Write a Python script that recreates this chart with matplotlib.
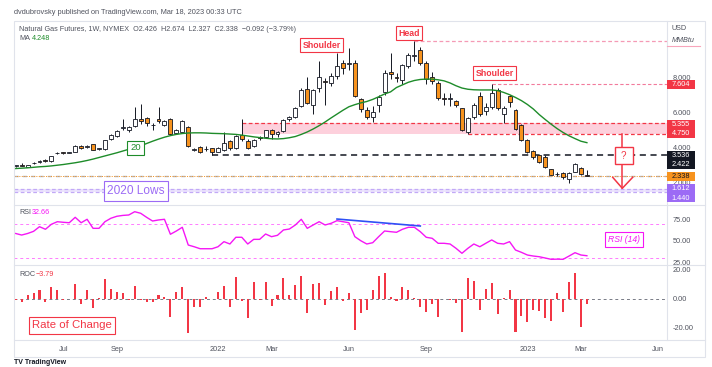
import numpy as np
import pandas as pd
import matplotlib
matplotlib.use("Agg")
import matplotlib.pyplot as plt
import matplotlib.dates as mdates
from matplotlib.patches import Rectangle
from matplotlib.ticker import FormatStrFormatter

plt.rcParams['font.family'] = ['Liberation Sans', 'DejaVu Sans']

# weekly NG futures, May 2021 - Mar 2023
weeks = pd.date_range('2021-05-10', periods=97, freq='7D')
opens = [2.92, 2.99, 2.88, 3.08, 3.12, 3.27, 3.20, 3.65, 3.68, 3.66,
         3.74, 4.04, 4.02, 4.15, 3.89, 3.86, 4.44, 4.65, 5.08, 5.00,
         5.18, 5.62, 5.64, 5.25, 5.58, 5.27, 5.60, 4.80, 4.88, 5.16,
         3.85, 4.02, 3.86, 3.92, 3.74, 3.85, 4.34, 3.93, 4.69, 4.34,
         4.06, 4.58, 4.55, 5.00, 4.75, 4.91, 5.58, 5.70, 6.35, 7.30,
         6.40, 7.35, 7.78, 7.64, 8.06, 8.82, 8.72, 8.82, 6.72, 6.11,
         5.72, 6.40, 7.16, 8.30, 8.00, 7.85, 8.63, 9.18, 9.54, 8.80,
         8.02, 7.67, 6.82, 6.75, 6.63, 6.21, 4.87, 5.70, 6.91, 6.07,
         6.30, 7.26, 5.90, 6.91, 6.11, 5.26, 4.40, 3.79, 3.54, 3.45,
         2.73, 2.47, 2.53, 2.20, 2.60, 2.82, 2.426]
highs = [2.98, 3.06, 2.99, 3.14, 3.25, 3.30, 3.51, 3.72, 3.72, 3.72,
         4.10, 4.12, 4.14, 4.20, 3.96, 4.42, 4.72, 4.97, 5.62, 5.20,
         6.30, 6.45, 5.70, 5.35, 6.27, 5.55, 5.65, 5.05, 5.52, 5.20,
         3.95, 4.05, 4.05, 3.95, 4.00, 4.87, 4.40, 4.70, 5.58, 4.45,
         4.45, 4.62, 5.00, 5.05, 4.92, 5.60, 5.78, 6.30, 7.35, 7.98,
         7.30, 8.93, 7.95, 8.25, 9.35, 8.95, 9.66, 9.00, 6.78, 6.30,
         6.34, 6.95, 8.40, 9.40, 8.25, 8.75, 9.40, 10.03, 9.70, 8.90,
         8.30, 7.75, 7.10, 7.10, 6.70, 6.25, 5.70, 6.50, 7.16, 6.50,
         7.604, 7.35, 6.35, 7.00, 6.20, 5.30, 4.45, 3.85, 3.60, 3.55,
         2.75, 2.58, 2.60, 2.60, 3.08, 2.85, 2.674]
lows = [2.87, 2.91, 2.85, 3.05, 3.10, 3.16, 3.17, 3.58, 3.62, 3.63,
        3.72, 3.90, 3.96, 3.82, 3.85, 3.83, 4.40, 4.60, 4.95, 4.88,
        5.12, 5.30, 5.18, 4.98, 5.40, 5.20, 4.70, 4.72, 4.85, 4.02,
        3.80, 3.64, 3.78, 3.536, 3.70, 3.80, 3.85, 3.90, 4.35, 3.90,
        4.00, 4.42, 4.50, 4.45, 4.60, 4.88, 5.50, 5.65, 6.30, 6.45,
        5.87, 7.15, 6.40, 7.50, 7.90, 8.20, 8.40, 6.85, 6.00, 5.60,
        5.45, 6.00, 7.00, 7.90, 7.73, 7.60, 8.50, 8.90, 8.70, 7.60,
        7.60, 6.70, 6.40, 6.35, 6.30, 4.90, 4.75, 5.60, 5.80, 5.85,
        6.20, 6.10, 5.39, 6.30, 4.95, 4.35, 3.65, 3.30, 3.10, 2.80,
        2.38, 2.35, 2.20, 1.967, 2.55, 2.38, 2.327]
closes = [2.94, 2.94, 2.96, 3.10, 3.22, 3.20, 3.49, 3.67, 3.66, 3.67,
          4.06, 3.97, 4.08, 3.85, 3.92, 4.40, 4.69, 4.91, 5.15, 5.13,
          5.60, 5.50, 5.36, 5.27, 5.50, 5.49, 4.75, 5.00, 5.48, 4.07,
          3.88, 3.69, 3.88, 3.70, 3.97, 4.25, 3.97, 4.63, 4.48, 3.96,
          4.40, 4.50, 4.97, 4.73, 4.86, 5.54, 5.72, 6.21, 7.26, 6.50,
          7.26, 7.98, 7.70, 8.06, 8.63, 8.50, 8.80, 6.91, 6.15, 5.72,
          6.02, 6.87, 8.21, 8.17, 7.97, 8.69, 9.26, 9.25, 8.78, 7.90,
          7.75, 6.80, 6.76, 6.80, 6.42, 4.95, 5.64, 6.40, 5.90, 6.27,
          7.07, 6.21, 6.21, 6.55, 5.01, 4.40, 3.70, 3.41, 3.16, 2.84,
          2.42, 2.44, 2.28, 2.53, 3.01, 2.43, 2.338]
ma20 = [2.77, 2.79, 2.81, 2.84, 2.87, 2.89, 2.92, 2.96, 3.00, 3.05,
        3.10, 3.16, 3.23, 3.31, 3.40, 3.49, 3.58, 3.67, 3.77, 3.87,
        3.97, 4.07, 4.20, 4.33, 4.45, 4.56, 4.65, 4.72, 4.77, 4.80,
        4.81, 4.81, 4.80, 4.78, 4.77, 4.76, 4.74, 4.72, 4.68, 4.63,
        4.58, 4.54, 4.50, 4.47, 4.46, 4.48, 4.53, 4.60, 4.72, 4.86,
        5.03, 5.22, 5.43, 5.66, 5.88, 6.10, 6.30, 6.42, 6.52, 6.60,
        6.72, 6.87, 7.03, 7.15, 7.40, 7.55, 7.70, 7.80, 7.86, 7.88,
        7.88, 7.84, 7.78, 7.66, 7.50, 7.37, 7.30, 7.27, 7.26, 7.26,
        7.26, 7.22, 7.12, 6.99, 6.83, 6.65, 6.43, 6.17, 5.85, 5.57,
        5.30, 5.05, 4.83, 4.64, 4.48, 4.33, 4.248]
rsi14 = [58.5, 56.7, 58.5, 61.0, 66.4, 63.4, 69.2, 72.2, 71.5, 71.0,
         77.3, 71.0, 75.0, 64.5, 64.5, 72.2, 76.2, 78.5, 79.5, 80.0,
         83.8, 82.0, 77.3, 73.0, 74.2, 75.0, 57.6, 61.4, 65.7, 45.1,
         43.1, 40.8, 40.8, 40.8, 43.1, 49.0, 46.3, 54.1, 54.1, 46.3,
         51.7, 51.7, 57.9, 54.8, 56.4, 62.6, 63.7, 68.4, 75.0, 64.5,
         68.4, 72.2, 68.4, 70.3, 73.4, 72.2, 71.0, 54.8, 50.1, 46.3,
         47.8, 54.8, 61.4, 60.6, 59.9, 63.4, 65.7, 65.7, 60.6, 54.1,
         52.9, 47.1, 47.1, 46.3, 41.3, 35.5, 41.3, 46.3, 43.1, 47.1,
         51.0, 47.1, 46.3, 49.0, 39.3, 36.6, 33.5, 32.3, 31.5, 30.0,
         28.5, 28.7, 28.5, 32.3, 36.2, 33.5, 32.66]
roc = [-1.0, -1.8, 2.8, 3.9, 6.2, -2.3, 8.5, 6.2, -0.9, 0.3,
       10.3, -3.4, 6.2, -6.4, 0.5, 13.8, 6.7, 5.1, 3.9, -1.0,
       9.0, -1.0, -2.0, -2.3, 2.8, 1.6, -12.6, 5.1, 8.1, -23.7,
       -5.3, -5.8, 1.4, 0.3, 4.8, 9.0, -5.8, 15.4, -1.5, -13.3,
       12.0, -0.5, 12.0, -5.0, 2.8, 14.2, 2.8, 9.4, 15.9, -9.9,
       10.3, 11.0, -4.0, 5.5, 8.1, -1.6, 3.9, -21.4, -9.9, -7.6,
       6.2, 15.9, 18.2, 1.0, -1.5, 8.1, 6.2, 0.8, -5.3, -8.7,
       -3.4, -12.2, 0.3, -0.7, -3.0, -22.5, 14.2, 12.4, -7.6, 6.7,
       10.8, -10.6, 0.5, 6.0, -22.5, -12.0, -16.0, -7.6, -8.5, -13.0,
       -15.0, 4.0, -9.0, 12.0, 18.0, -19.3, -3.79]

# drawn levels: (value, first week index)
head_high = (10.03, 67)
right_shoulder = (7.604, 80)
zone_top, zone_bottom = 5.355, 4.750
zone_start, zone_bottom_start = 38, 76
support = (3.536, 33)
last_close = 2.338
lows_2020 = (1.440, 1.612)
rsi_trend = ([54, 68], [75.3, 67.2])

month_ticks = ['2021-07-05', '2021-09-06', '2022-01-03', '2022-03-07', '2022-06-06',
               '2022-09-05', '2023-01-02', '2023-03-06', '2023-06-05']
month_labels = ['Jul', 'Sep', '2022', 'Mar', 'Jun', 'Sep', '2023', 'Mar', 'Jun']

W, H = 712, 367
RED = '#f23645'
ORANGE = '#f7931e'
PURPLE = '#9c6bf5'
GREEN = '#1e8c2a'
MAGENTA = '#f516f5'
TXT = '#50535e'
GRID = '#e0e3eb'


def px_axes(fig, x0, y0, x1, y1):
    """axes placed by pixel box (top-left origin)"""
    a = fig.add_axes([x0 / W, 1 - y1 / H, (x1 - x0) / W, (y1 - y0) / H])
    for s in a.spines.values():
        s.set_visible(False)
    a.patch.set_alpha(0)
    return a


fig = plt.figure(figsize=(W / 100, H / 100), dpi=100)
fig.patch.set_facecolor('white')

x = mdates.date2num(weeks)
left = x[0] - 2.0
right = left + 653 / 5.95 * 7

ax = px_axes(fig, 14, 21, 667, 205)
ax_rsi = px_axes(fig, 14, 205, 667, 265)
ax_roc = px_axes(fig, 14, 265, 667, 340)
for a in (ax, ax_rsi, ax_roc):
    a.set_xlim(left, right)
    a.yaxis.tick_right()
    a.tick_params(axis='y', length=0, pad=4, labelsize=5.3, labelcolor=TXT)
    a.tick_params(axis='x', length=0)
ax.set_ylim(0.686, 11.2)
ax_rsi.set_ylim(21.9, 91.6)
ax_roc.set_ylim(-28.3, 23.4)
ax.set_xticks([])
ax_rsi.set_xticks([])

# price pane
o, h, l, c = map(np.array, (opens, highs, lows, closes))
ax.fill_between([x[zone_start], right], zone_bottom, zone_top, color='#fdd0dc', lw=0, zorder=1)
ax.hlines(zone_top, x[zone_start], right, color=RED, lw=0.9, ls=(0, (3, 2)), zorder=2)
ax.hlines(zone_bottom, x[zone_bottom_start], right, color=RED, lw=0.9, ls=(0, (3, 2)), zorder=2)
ax.hlines(head_high[0], x[head_high[1]], right, color='#f59ab5', lw=0.9, ls=(0, (3, 2)), zorder=2)
ax.hlines(right_shoulder[0], x[right_shoulder[1]], right, color='#f27a9c', lw=0.8, ls=(0, (3, 2)), zorder=2)
ax.hlines(support[0], x[support[1]], right, color='#131722', lw=1.1, ls=(0, (4, 3)), zorder=2)
ax.fill_between([left, right], *lows_2020, color='#ece4fd', lw=0, zorder=1)
for lv in lows_2020:
    ax.axhline(lv, color='#c2a9f7', lw=0.9, ls=(0, (3, 2)), zorder=2)
ax.axhline(last_close, color='#b2b5be', lw=1.0, ls=(0, (3, 3)), zorder=2)
ax.axhline(last_close, color=ORANGE, lw=0.7, ls=(0, (1, 1.5)), zorder=2)

ax.vlines(x, l, h, color='#131722', lw=0.7, zorder=3)
body_colors = np.where(c >= o, 'white', ORANGE)
ax.bar(x, np.maximum(np.abs(c - o), 0.03), bottom=np.minimum(o, c), width=4.6,
       color=body_colors, edgecolor='#131722', linewidth=0.6, zorder=4)
ax.plot(x, ma20, color=GREEN, lw=1.0, zorder=5)
ax.set_yticks([2, 4, 6, 8])
ax.yaxis.set_major_formatter(FormatStrFormatter('%.3f'))

# RSI pane
ax_rsi.axhline(70, color='#ff7bff', lw=0.7, ls=(0, (3, 3)))
ax_rsi.axhline(30, color='#ff7bff', lw=0.7, ls=(0, (3, 3)))
ax_rsi.plot(x, rsi14, color=MAGENTA, lw=1.0, zorder=3)
ax_rsi.plot(x[rsi_trend[0]], rsi_trend[1], color='#2f50f5', lw=1.2, zorder=4)
ax_rsi.set_yticks([25, 50, 75])
ax_rsi.yaxis.set_major_formatter(FormatStrFormatter('%.2f'))

# ROC pane
ax_roc.axhline(0, color='#787b86', lw=0.7, ls=(0, (3, 3)))
ax_roc.bar(x, roc, width=2.4, color=RED, lw=0, antialiased=False, zorder=3)
ax_roc.set_yticks([-20, 0, 20])
ax_roc.yaxis.set_major_formatter(FormatStrFormatter('%.2f'))
ax_roc.set_xticks(mdates.date2num(pd.to_datetime(month_ticks)))
ax_roc.set_xticklabels(month_labels)
ax_roc.tick_params(axis='x', labelsize=5.3, labelcolor=TXT, pad=4)

# overlay in pixel coordinates for frame, labels and drawings
ov = fig.add_axes([0, 0, 1, 1])
ov.set_xlim(0, W)
ov.set_ylim(H, 0)
ov.axis('off')
ov.patch.set_alpha(0)

ov.add_patch(Rectangle((13.5, 20.5), 691, 336.5, fill=False, ec=GRID, lw=0.8))
for yy in (205, 265, 340):
    ov.plot([14, 705], [yy, yy], color=GRID, lw=0.8)
ov.plot([667, 667], [21, 340], color=GRID, lw=0.8)

ov.text(14, 13, 'dvdubrovsky published on TradingView.com, Mar 18, 2023 00:33 UTC',
        fontsize=5.3, color=TXT, va='center')
ov.text(19, 29.5, 'Natural Gas Futures, 1W, NYMEX  O2.426  H2.674  L2.327  C2.338  \u22120.092 (\u22123.79%)',
        fontsize=5.2, color=TXT, va='center')
ov.text(19, 39, 'MA', fontsize=5.2, color=TXT, va='center')
ov.text(32, 39, '4.248', fontsize=5.2, color=GREEN, va='center')
ov.text(672, 28, 'USD', fontsize=5.2, color=TXT, va='center')
ov.text(672, 40, 'MMBtu', fontsize=5.2, color=TXT, va='center', style='italic')
ov.plot([667, 700], [46, 46], color='#f8a5bb', lw=0.8)
ov.text(19, 213, 'RSI', fontsize=5.2, color=TXT, va='center')
ov.text(32, 213, '32.66', fontsize=5.2, color=MAGENTA, va='center')
ov.text(19, 274, 'ROC', fontsize=5.2, color=TXT, va='center')
ov.text(36, 274, '\u22123.79', fontsize=5.2, color=RED, va='center')
ov.text(14, 362, 'TV TradingView', fontsize=5, color='#131722', va='center', weight='bold')

# value boxes on the price scale
boxes = [('7.604', 84.7, RED, 'white'), ('5.355', 124.1, RED, 'white'),
         ('4.750', 133.2, RED, 'white'), ('3.536', 155.4, '#131722', 'white'),
         ('2.422', 164.2, '#131722', 'white'), ('2.338', 176.2, ORANGE, '#131722'),
         ('1.612', 188.4, PURPLE, 'white'), ('1.440', 197.8, PURPLE, 'white')]
for txt, yc, bg, fg in boxes:
    ov.add_patch(Rectangle((667, yc - 4.4), 28, 8.8, color=bg, lw=0, zorder=5))
    ov.text(681, yc + 0.3, txt, fontsize=5.3, color=fg, ha='center', va='center', zorder=6)


def tag(xc, yc, s, col, size, **kw):
    ov.text(xc, yc, s, fontsize=size, color=col, ha='center', va='center', zorder=7,
            bbox=dict(boxstyle='square,pad=0.3', fc='white', ec=col, lw=0.8), **kw)


tag(321.5, 45, 'Shoulder', RED, 6.3, weight='bold')
tag(409, 33, 'Head', RED, 6.3, weight='bold')
tag(494.7, 73.3, 'Shoulder', RED, 6.3, weight='bold')
tag(135.5, 148, '20', GREEN, 6.8)
tag(136, 191, '2020 Lows', PURPLE, 8.6)
tag(72, 325.5, 'Rate of Change', RED, 8.2)
tag(624, 239.5, 'RSI (14)', MAGENTA, 6.2, style='italic')

# question box with arrow
ov.plot([622.3, 622.3], [134, 146.7], color=RED, lw=1.1)
ov.add_patch(Rectangle((614.5, 146.7), 18.5, 17.3, fc='white', ec=RED, lw=1.0, zorder=5))
ov.text(623.8, 155.6, '?', fontsize=7, color=RED, ha='center', va='center', zorder=6)
ov.plot([622.3, 622.3], [164, 188.3], color=RED, lw=1.1)
ov.plot([612.7, 622.3, 632.7], [177.3, 188.3, 177.3], color=RED, lw=1.1)

fig.savefig('out.png', dpi=100)
